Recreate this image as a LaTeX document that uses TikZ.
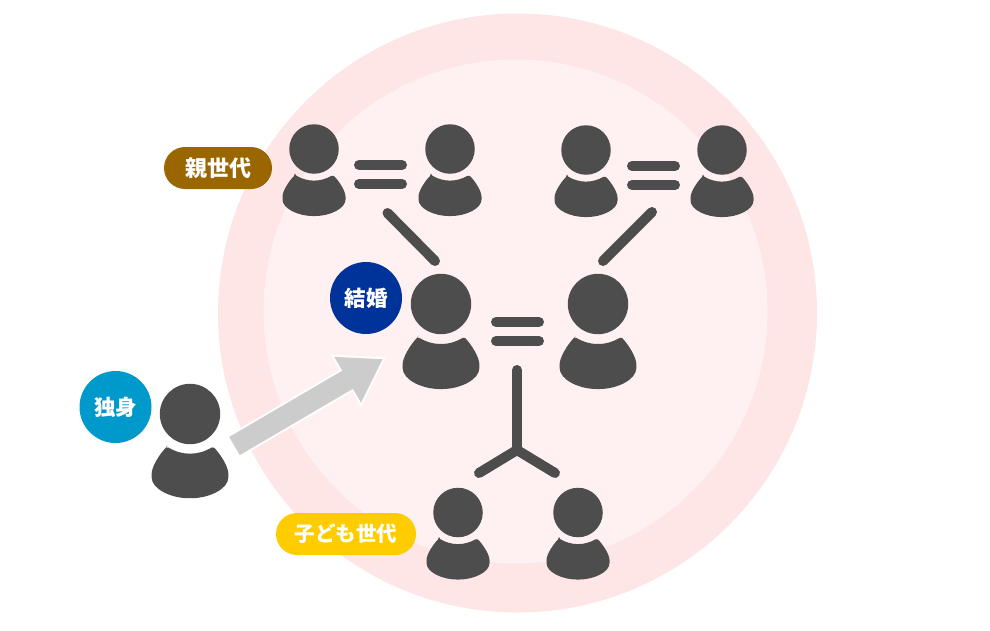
\documentclass[tikz,border=0pt]{standalone}
\usepackage{fontspec}
\setmainfont{Noto Sans CJK JP}
\definecolor{ringout}{RGB}{254, 229, 230}
\definecolor{ringin}{RGB}{255, 241, 242}
\definecolor{personGray}{RGB}{77, 77, 77}
\definecolor{arrowGray}{RGB}{204, 204, 204}
\definecolor{parentBrown}{RGB}{153, 102, 0}
\definecolor{childYellow}{RGB}{255, 204, 0}
\definecolor{marriedBlue}{RGB}{0, 51, 153}
\definecolor{singleBlue}{RGB}{0, 153, 204}
\usetikzlibrary{arrows.meta, positioning}

\begin{document}
\begin{tikzpicture}[
  x=1pt, y=-1pt,
  badge/.style={text=white, inner sep=0pt, font=\bfseries\fontsize{21.5}{22}\selectfont},
  pill/.style={badge, fill=#1, rounded corners=21pt, minimum height=42pt},
  round badge/.style={badge, circle, fill=#1, minimum size=72pt},
  link/.style={draw=personGray, line width=10pt, line cap=round},
  body stretch/.store in=\bodystretch, body stretch=1,
  person/.pic={
    \node[circle, fill=personGray, minimum size=49.5pt, inner sep=0pt, transform shape] (-head) at (0,0) {};
    \fill[personGray, rounded corners=1.5pt, yscale=\bodystretch] (-19,26) .. controls (-12,30) and (-6,31.5) .. (0,31.5)
      .. controls (6,31.5) and (12,30) .. (19,26) .. controls (25,32) and (31.5,42) .. (31.5,49)
      .. controls (31.5,60) and (15,67) .. (0,67) .. controls (-15,67) and (-31.5,60) .. (-31.5,49)
      .. controls (-31.5,42) and (-25,32) .. cycle;
  },
  equalbars/.pic={
    \draw[link] (-21.5,-9.5) -- (21.5,-9.5);
    \draw[link] (-21.5,9.5) -- (21.5,9.5);
  }
]
  \useasboundingbox (0,0) rectangle (990,630);
  \fill[ringout] (517.5,313) circle (299.5);
  \fill[ringin] (515.5,311.5) circle (252);

  % parents
  \pic (granpaA) at (314,149) {person};
  \pic (granmaA) at (450,149) {person};
  \pic (granpaB) at (586,150) {person};
  \pic (granmaB) at (722,150) {person};
  \pic at (380.5,174.5) {equalbars};
  \pic at (653.5,175.5) {equalbars};

  % couple
  \pic[scale=1.22, body stretch=1.04] (husband) at (441,304) {person};
  \pic[scale=1.22, body stretch=1.04] (wife) at (598,304) {person};
  \pic at (517.5,331.5) {equalbars};

  % children
  \pic (childA) at (458,512.5) {person};
  \pic (childB) at (578,512.5) {person};

  % single
  \pic[scale=1.22, body stretch=1.03] (single) at (190,414) {person};

  \coordinate (lineAtop) at (387.5,213);
  \coordinate (lineAend) at (435,261);
  \coordinate (lineBtop) at (652,212);
  \coordinate (lineBend) at (603,261);
  \coordinate (trunktop) at (517,370);
  \coordinate (fork) at (517,450);
  \coordinate (forkA) at (479,473);
  \coordinate (forkB) at (555,473);
  \draw[link] (lineAtop) -- (lineAend);
  \draw[link] (lineBtop) -- (lineBend);
  \draw[link] (trunktop) -- (fork);
  \draw[link] (forkA) -- (fork) -- (forkB);

  \coordinate (movefrom) at (234.5,446);
  \coordinate (moveto) at (383,359);
  \draw[white, line width=25pt, shorten >=-3.84pt, shorten <=-2pt, -{Triangle[length=46.84pt, width=57.1pt]}] (movefrom) -- (moveto);
  \draw[arrowGray, line width=21pt, -{Triangle[length=41pt, width=50pt]}] (movefrom) -- (moveto);

  \node[pill=parentBrown, minimum width=108pt, font=\bfseries\fontsize{22}{22}\selectfont] (parents) at (218,168) {親世代};
  \node[pill=childYellow, minimum width=140pt, font=\bfseries\fontsize{20.5}{22}\selectfont] (children) at (346,534) {子ども世代};
  \node[round badge=marriedBlue] (married) at (366,298) {結婚};
  \node[round badge=singleBlue] (unmarried) at (115.5,407) {独身};
\end{tikzpicture}
\end{document}
